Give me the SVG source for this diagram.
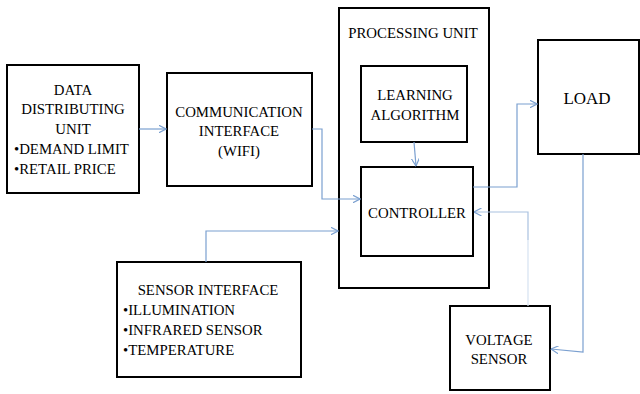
<svg xmlns="http://www.w3.org/2000/svg" width="640" height="394" viewBox="0 0 640 394">
<style>
.box{fill:#fff;stroke:#000;stroke-width:2}
.t{font-family:"Liberation Serif","Times New Roman",serif;font-size:14.8px;fill:#000}
.c{text-anchor:middle}
.ln{fill:none;stroke:#7ba0d0;stroke-width:1.2}
.faint{fill:none;stroke:#d6e2f1;stroke-width:1.2}
</style>
<defs>
<marker id="ah" viewBox="0 0 8 8" refX="7.5" refY="4" markerWidth="8" markerHeight="8" markerUnits="userSpaceOnUse" orient="auto">
<path d="M0,0 L7.5,4 L0,8" fill="none" stroke="#7ba0d0" stroke-width="1.2"/>
</marker>
</defs>
<rect width="640" height="394" fill="#fff"/>
<g id="processing-unit">
<rect class="box" x="339" y="8" width="150" height="280"/>
<text class="t c" x="413" y="38">PROCESSING UNIT</text>
</g>
<g id="data-distributing-unit">
<rect class="box" x="7" y="65" width="132" height="128"/>
<text class="t c" x="73" y="95">DATA</text>
<text class="t c" x="73" y="114">DISTRIBUTING</text>
<text class="t c" x="73" y="134">UNIT</text>
<text class="t" x="14" y="154">•DEMAND LIMIT</text>
<text class="t" x="14" y="174">•RETAIL PRICE</text>
</g>
<g id="communication-interface">
<rect class="box" x="167" y="73" width="145" height="113"/>
<text class="t c" x="239" y="117">COMMUNICATION</text>
<text class="t c" x="239" y="136">INTERFACE</text>
<text class="t c" x="239" y="156">(WIFI)</text>
</g>
<g id="learning-algorithm">
<rect class="box" x="361" y="66" width="106" height="76"/>
<text class="t c" x="415" y="100">LEARNING</text>
<text class="t c" x="415" y="120">ALGORITHM</text>
</g>
<g id="controller">
<rect class="box" x="361" y="167" width="112" height="89"/>
<text class="t c" x="417" y="218">CONTROLLER</text>
</g>
<g id="load">
<rect class="box" x="538" y="40" width="101" height="114"/>
<text class="t c" x="587" y="104" style="font-size:17px">LOAD</text>
</g>
<g id="sensor-interface">
<rect class="box" x="117" y="262" width="184" height="115"/>
<text class="t c" x="208" y="295">SENSOR INTERFACE</text>
<text class="t" x="123" y="315">•ILLUMINATION</text>
<text class="t" x="123" y="335">•INFRARED SENSOR</text>
<text class="t" x="123" y="355">•TEMPERATURE</text>
</g>
<g id="voltage-sensor">
<rect class="box" x="450" y="306" width="100" height="84"/>
<text class="t c" x="499" y="345">VOLTAGE</text>
<text class="t c" x="499" y="364">SENSOR</text>
</g>
<g id="connectors">
<path class="ln" d="M139,129 H166" marker-end="url(#ah)"/>
<path class="ln" d="M312,129 H322 V199 H360" marker-end="url(#ah)"/>
<path class="ln" d="M414,142 L416,166" marker-end="url(#ah)"/>
<path class="ln" d="M206,262 V231 H338" marker-end="url(#ah)"/>
<path class="ln" d="M473,187 H517 V104 H537" marker-end="url(#ah)"/>
<path class="faint" d="M528,306 V240"/>
<path class="ln" d="M528,240 V212 H474" marker-end="url(#ah)" style="stroke:#a9c1e0"/>
<path class="ln" d="M583,154 V352 L551,349" marker-end="url(#ah)"/>
</g>
</svg>
